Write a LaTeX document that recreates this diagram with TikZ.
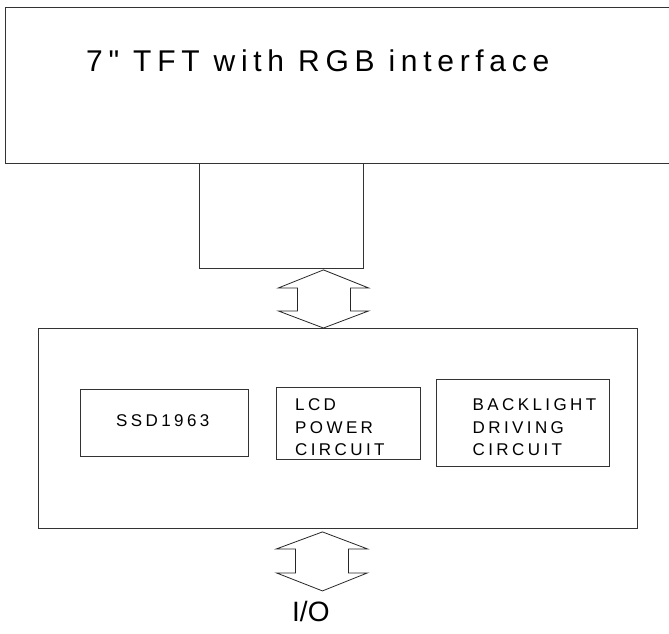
\documentclass[tikz,border=0pt]{standalone}
\usepackage{fontspec}
\setmainfont{Liberation Sans}
\newfontfamily\titlefont{Liberation Sans}
\usetikzlibrary{calc}
\tikzset{
  box/.style={draw=black!80,line width=0.9pt,rectangle,inner sep=0pt,anchor=north west},
  dblarrow/.style={draw=black!85,line width=0.8pt,line join=miter},
  bigtext/.style={inner sep=0pt,font=\titlefont\fontsize{30}{36}\selectfont\addfontfeature{LetterSpace=19}},
  smalltext/.style={inner sep=0pt,align=left,font=\titlefont\fontsize{17}{22.6}\selectfont\addfontfeature{LetterSpace=20}},
}
\begin{document}
\begin{tikzpicture}[x=1pt,y=-1pt]
\useasboundingbox (0,0) rectangle (669,633);
\clip (0,0) rectangle (669,633);
% top display
\node[box,minimum width=690pt,minimum height=156pt] (tft) at (5,7) {};
\node[bigtext,anchor=base west] (title) at (86,71) {7" TFT with RGB interface};
% connector board
\node[box,minimum width=164pt,minimum height=105pt] (conn) at (199,163) {};
% main board
\node[box,minimum width=599pt,minimum height=200pt] (main) at (38,328) {};
\node[box,minimum width=168pt,minimum height=67pt] (ssd) at (80,389) {};
\node[smalltext,anchor=base west] (ssdt) at (116,426) {SSD1963};
\node[box,minimum width=144pt,minimum height=72pt] (lcd) at (276,387) {};
\node[smalltext,anchor=north west] (lcdt) at (295,398.5) {LCD\\POWER\\CIRCUIT};
\node[box,minimum width=173pt,minimum height=87pt] (bl) at (436,379) {};
\node[smalltext,anchor=north west] (blt) at (472.5,398.5) {BACKLIGHT\\DRIVING\\CIRCUIT};
% I/O label
\coordinate (iotop) at ($(main.south)+(-15.5,3)$);
\coordinate (iobot) at ($(iotop)+(0,59)$);
\node[inner sep=0pt,font=\titlefont\fontsize{28}{34}\selectfont,anchor=base west] (io) at (292,621) {I/O};
% double arrows
\coordinate (a1t) at ($(conn.south)+(42,1)$);
\coordinate (a1b) at (a1t |- main.north);
\draw[dblarrow] (a1t) -- ($(a1t)+(-45,18)$) -- ($(a1t)+(-26,18)$) -- ($(a1b)+(-26,-17)$)
  -- ($(a1b)+(-45,-17)$) -- (a1b) -- ($(a1b)+(45,-17)$) -- ($(a1b)+(27,-17)$)
  -- ($(a1t)+(27,18)$) -- ($(a1t)+(45,18)$) -- cycle;
\draw[dblarrow] (iotop) -- ($(iotop)+(-46,17)$) -- ($(iotop)+(-27,17)$) -- ($(iobot)+(-27,-18)$)
  -- ($(iobot)+(-46,-18)$) -- (iobot) -- ($(iobot)+(45,-18)$) -- ($(iobot)+(26,-18)$)
  -- ($(iotop)+(26,17)$) -- ($(iotop)+(45,17)$) -- cycle;
\end{tikzpicture}
\end{document}
